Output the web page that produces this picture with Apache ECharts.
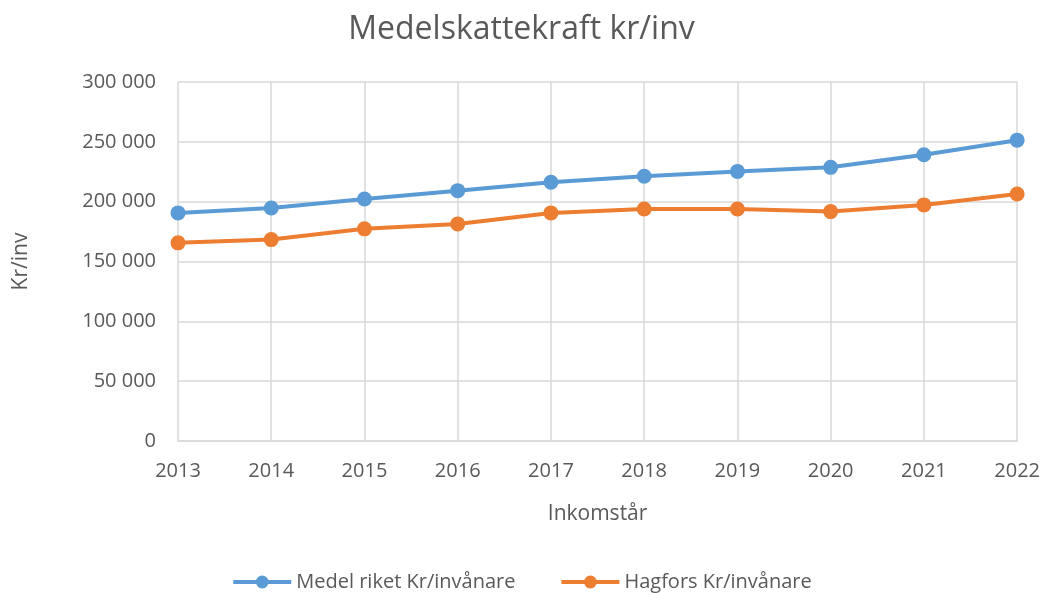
<!DOCTYPE html>
<html>
<head>
<meta charset="utf-8">
<script src="https://cdn.jsdelivr.net/npm/echarts@6/dist/echarts.min.js"></script>
<style>
  html, body { margin: 0; padding: 0; background: #fff; }
  #chart { width: 1043px; height: 593px; }
</style>
</head>
<body>
<div id="chart"></div>
<script>
  const years = ['2013', '2014', '2015', '2016', '2017', '2018', '2019', '2020', '2021', '2022']
  const medelRiket = [190600, 194700, 202200, 209200, 216200, 221200, 225300, 228700, 239200, 251400]
  const hagfors = [165600, 168300, 177300, 181400, 190600, 193900, 193900, 191700, 197300, 206400]

  const font = 'Open Sans'
  const textColor = '#595959'
  const fmt = v => String(v).replace(/\B(?=(\d{3})+(?!\d))/g, ' ')

  const chart = echarts.init(document.getElementById('chart'))
  chart.setOption({
    animation: false,
    title: {
      text: 'Medelskattekraft kr/inv',
      left: 'center',
      top: 9,
      textStyle: { fontFamily: font, fontSize: 32, fontWeight: 'normal', color: textColor }
    },
    grid: { left: 178, right: 22, top: 82, bottom: 152 },
    xAxis: {
      type: 'category',
      data: years,
      boundaryGap: false,
      name: 'Inkomstår',
      nameLocation: 'middle',
      nameGap: 63,
      nameTextStyle: { fontFamily: font, fontSize: 21, color: textColor },
      axisLine: { lineStyle: { color: '#D9D9D9', width: 1.5 } },
      axisTick: { show: false },
      axisLabel: { fontFamily: font, fontSize: 20, color: textColor, margin: 20 },
      splitLine: { show: true, lineStyle: { color: '#D9D9D9', width: 1.5 } }
    },
    yAxis: {
      type: 'value',
      min: 0,
      max: 300000,
      interval: 50000,
      name: 'Kr/inv',
      nameLocation: 'middle',
      nameGap: 146,
      nameRotate: 90,
      nameTextStyle: { fontFamily: font, fontSize: 21, color: textColor },
      axisLine: { show: false },
      axisTick: { show: false },
      axisLabel: { fontFamily: font, fontSize: 20, color: textColor, margin: 22, formatter: fmt },
      splitLine: { lineStyle: { color: '#D9D9D9', width: 1.5 } }
    },
    legend: {
      bottom: -4,
      left: 'center',
      itemWidth: 58,
      itemHeight: 16,
      itemGap: 44,
      lineStyle: { width: 4 },
      textStyle: { fontFamily: font, fontSize: 20, color: textColor },
      data: ['Medel riket Kr/invånare', 'Hagfors Kr/invånare']
    },
    series: [
      {
        name: 'Medel riket Kr/invånare',
        type: 'line',
        data: medelRiket,
        symbol: 'circle',
        symbolSize: 15,
        lineStyle: { color: '#5B9BD5', width: 4 },
        itemStyle: { color: '#5B9BD5' }
      },
      {
        name: 'Hagfors Kr/invånare',
        type: 'line',
        data: hagfors,
        symbol: 'circle',
        symbolSize: 15,
        lineStyle: { color: '#ED7D31', width: 4 },
        itemStyle: { color: '#ED7D31' }
      }
    ]
  })
</script>
</body>
</html>
